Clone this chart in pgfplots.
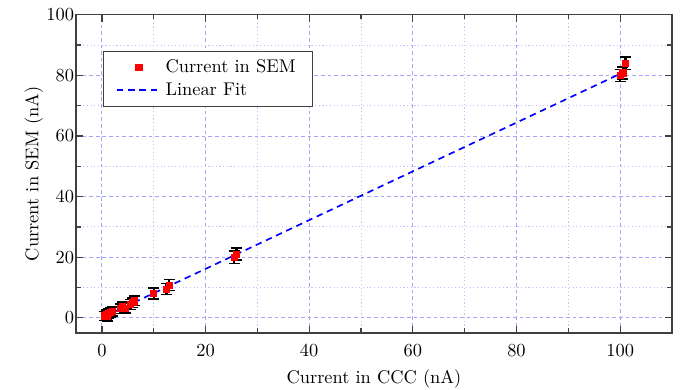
\documentclass[border=0pt]{standalone}
\usepackage{pgfplots}
\pgfplotsset{compat=1.18}
\definecolor{gridc}{RGB}{165,165,250}
\begin{document}
\begin{tikzpicture}
\useasboundingbox (-41.3pt,-30.5pt) rectangle (330pt,181pt);
\begin{axis}[
  scale only axis, width=324pt, height=173pt,
  xmin=-5, xmax=110, ymin=-5, ymax=100,
  xtick={0,20,...,100}, ytick={0,20,...,100},
  minor xtick={10,30,...,110}, minor ytick={10,30,...,90},
  tick align=inside,
  major tick length=4pt, minor tick length=2.5pt,
  grid=both,
  major grid style={gridc, line width=0.45pt, dash pattern=on 2pt off 1.6pt},
  minor grid style={gridc!70, line width=0.45pt, dash pattern=on 0.6pt off 1.4pt},
  axis line style={black!75, line width=0.8pt},
  tick style={black!75, line width=0.7pt},
  xlabel={Current in CCC (nA)}, ylabel={Current in SEM (nA)},
  xticklabel style={yshift=-3pt},
  xlabel style={yshift=0pt},
  yticklabel style={xshift=2.5pt},
  ylabel style={yshift=-5pt},
  legend style={at={(0.045,0.887)}, anchor=north west, draw=black!75, line width=0.6pt, font=\normalsize, inner xsep=7pt, inner ysep=2.5pt, row sep=0pt},
  legend cell align=left,
  legend image code/.code={\draw[mark repeat=2,mark phase=2,#1] plot coordinates {(0cm,0cm) (0.42cm,0cm) (0.84cm,0cm)};},
]
\addplot[only marks, mark=square*, mark size=1.7pt, mark options={red, draw=red},
  error bars/.cd, y dir=both, y explicit, error bar style={black, line width=1.3pt}, error mark options={rotate=90, mark size=3pt, black, line width=0.8pt}]
  table[x=x, y=y, y error=e] {
x y e
0.5 0.6 1.5
0.8 1.0 1.5
1.0 0.4 1.5
1.3 1.5 1.5
1.7 1.8 1.5
2.0 2.1 1.5
3.5 3.0 1.6
4.0 3.6 1.6
4.5 3.2 1.6
5.5 4.4 1.6
6.0 5.0 1.6
6.3 5.6 1.6
10.0 8.0 1.8
12.5 9.5 1.8
13.0 10.8 1.8
25.5 20.0 2.0
26.0 21.0 2.0
100.0 80.0 2.0
100.5 80.8 2.0
101.0 84.0 2.0
};
\addlegendentry{Current in SEM}
\addplot[blue, line width=0.9pt, dash pattern=on 3.5pt off 2.6pt] coordinates {(0.3,0.3) (101,81.3)};
\addlegendentry{Linear Fit}
\end{axis}
\end{tikzpicture}
\end{document}
